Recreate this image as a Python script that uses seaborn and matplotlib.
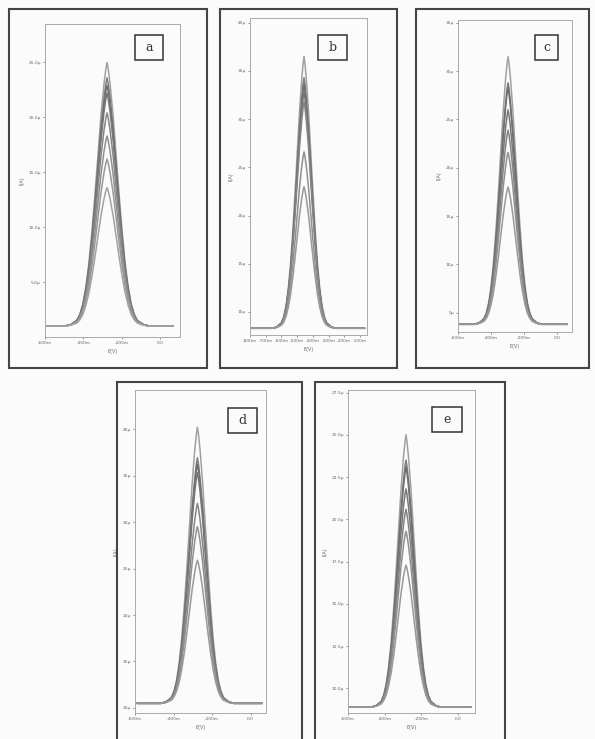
import numpy as np
import pandas as pd
import matplotlib
matplotlib.use("Agg")
import matplotlib.pyplot as plt
import seaborn as sns
from matplotlib.patches import Rectangle

W, H = 595, 739
sns.set_theme(style="white")
plt.rcParams['font.family'] = ['DejaVu Sans']

# Peak profile (offset in half-widths, relative height)
profile_offset = [-3.5, -3.0, -2.5, -2.25, -2.0, -1.75, -1.5, -1.25, -1.0, -0.75, -0.5, -0.25, -0.1, 0.0,
                  0.1, 0.25, 0.5, 0.75, 1.0, 1.25, 1.5, 1.75, 2.0, 2.25, 2.5, 3.0, 3.5]
profile_value = [0.0, 0.006, 0.022, 0.045, 0.085, 0.15, 0.24, 0.36, 0.5, 0.65, 0.8, 0.92, 0.975, 1.0,
                 0.975, 0.92, 0.8, 0.65, 0.5, 0.36, 0.24, 0.15, 0.085, 0.045, 0.022, 0.006, 0.0]

panel_names = ["a", "b", "c", "d", "e"]

# Panel a
a_peaks = [25.0, 23.6, 22.9, 22.2, 20.4, 18.3, 16.2, 13.6]
a_base, a_center, a_hw = 1.0, -0.276, 0.063
a_span = (-0.59, 0.07)
a_xticks = [-0.6, -0.4, -0.2, 0.0]
a_xlabels = ["-600m", "-400m", "-200m", "0.0"]
a_yticks = [5, 10, 15, 20, 25]
a_ylabels = ["5.0µ", "10.0µ", "15.0µ", "20.0µ", "25.0µ"]

# Panel b
b_peaks = [36.5, 34.3, 33.6, 32.8, 31.8, 26.6, 23.0]
b_base, b_center, b_hw = 8.3, -0.456, 0.057
b_span = (-0.79, -0.07)
b_xticks = [-0.8, -0.7, -0.6, -0.5, -0.4, -0.3, -0.2, -0.1]
b_xlabels = ["-800m", "-700m", "-600m", "-500m", "-400m", "-300m", "-200m", "-100m"]
b_yticks = [10, 15, 20, 25, 30, 35, 40]
b_ylabels = ["10µ", "15µ", "20µ", "25µ", "30µ", "35µ", "40µ"]

# Panel c
c_peaks = [31.5, 28.8, 28.3, 26.0, 23.9, 21.6, 18.0]
c_base, c_center, c_hw = 3.8, -0.297, 0.058
c_span = (-0.59, 0.06)
c_xticks = [-0.6, -0.4, -0.2, 0.0]
c_xlabels = ["-600m", "-400m", "-200m", "0.0"]
c_yticks = [5, 10, 15, 20, 25, 30, 35]
c_ylabels = ["5µ", "10µ", "15µ", "20µ", "25µ", "30µ", "35µ"]

# Panel d
d_peaks = [40.2, 36.9, 36.2, 35.3, 32.0, 29.5, 25.9]
d_base, d_center, d_hw = 10.5, -0.276, 0.054
d_span = (-0.59, 0.06)
d_xticks = [-0.6, -0.4, -0.2, 0.0]
d_xlabels = ["-600m", "-400m", "-200m", "0.0"]
d_yticks = [10, 15, 20, 25, 30, 35, 40]
d_ylabels = ["10µ", "15µ", "20µ", "25µ", "30µ", "35µ", "40µ"]

# Panel e
e_peaks = [25.0, 23.5, 23.1, 21.8, 20.6, 19.3, 17.3]
e_base, e_center, e_hw = 8.9, -0.284, 0.054
e_span = (-0.59, 0.07)
e_xticks = [-0.6, -0.4, -0.2, 0.0]
e_xlabels = ["-600m", "-400m", "-200m", "0.0"]
e_yticks = [10, 12.5, 15, 17.5, 20, 22.5, 25, 27.5]
e_ylabels = ["10.0µ", "12.5µ", "15.0µ", "17.5µ", "20.0µ", "22.5µ", "25.0µ", "27.5µ"]

panels = {
    "a": (a_peaks, a_base, a_center, a_hw, a_span, a_xticks, a_xlabels, a_yticks, a_ylabels),
    "b": (b_peaks, b_base, b_center, b_hw, b_span, b_xticks, b_xlabels, b_yticks, b_ylabels),
    "c": (c_peaks, c_base, c_center, c_hw, c_span, c_xticks, c_xlabels, c_yticks, c_ylabels),
    "d": (d_peaks, d_base, d_center, d_hw, d_span, d_xticks, d_xlabels, d_yticks, d_ylabels),
    "e": (e_peaks, e_base, e_center, e_hw, e_span, e_xticks, e_xlabels, e_yticks, e_ylabels),
}

# layout in pixels: frame (l, t, r, b), axes (l, t, r, b), label box (l, t, r, b)
layout = {
    "a": dict(frame=(9, 9, 207, 368), ax=(45, 24, 180, 337), box=(135, 35, 163, 60),
              xlim=(-0.6, 0.105), ylim=(0, 28.5)),
    "b": dict(frame=(220, 9, 397, 368), ax=(250, 18, 367, 335), box=(318, 35, 347, 60),
              xlim=(-0.8, -0.055), ylim=(7.6, 40.5)),
    "c": dict(frame=(416, 9, 589, 368), ax=(458, 20, 572, 332), box=(535, 35, 558, 60),
              xlim=(-0.6, 0.09), ylim=(3.0, 35.3)),
    "d": dict(frame=(117, 382, 302, 760), ax=(135, 390, 266, 713), box=(228, 408, 257, 433),
              xlim=(-0.6, 0.08), ylim=(9.46, 44.2)),
    "e": dict(frame=(315, 382, 505, 760), ax=(348, 390, 475, 713), box=(432, 407, 462, 432),
              xlim=(-0.6, 0.092), ylim=(8.55, 27.65)),
}

fig = plt.figure(figsize=(W / 100, H / 100), dpi=100)
fig.patch.set_facecolor("#fbfbfb")

grays = ["#a0a0a0", "#7c7c7c", "#6e6e6e", "#777777", "#858585", "#909090", "#999999", "#a2a2a2"]

for name in panel_names:
    peaks, base, center, hw, span, xt, xl, yt, yl = panels[name]
    lay = layout[name]
    fl, ft, fr, fb = lay["frame"]
    fig.patches.append(Rectangle((fl / W, 1 - fb / H), (fr - fl) / W, (fb - ft) / H,
                                 transform=fig.transFigure, fill=False,
                                 edgecolor="#454545", lw=1.5))
    l, t, r, b = lay["ax"]
    ax = fig.add_axes([l / W, 1 - b / H, (r - l) / W, (b - t) / H])
    ax.set_facecolor("#fbfbfb")
    rows = []
    for i, pk in enumerate(peaks):
        xs = [span[0]] + [center + o * hw for o in profile_offset] + [span[1]]
        ys = [base] + [base + (pk - base) * v for v in profile_value] + [base]
        for k, (xv, yv) in enumerate(zip(xs, ys)):
            rows.append(dict(x=xv, y=yv, curve=i, order=k))
    df = pd.DataFrame(rows)
    sns.lineplot(data=df, x="x", y="y", hue="curve", units="curve", estimator=None,
                 sort=False, palette=grays[:len(peaks)], legend=False, lw=1.1, ax=ax)
    ax.set_xlim(*lay["xlim"])
    ax.set_ylim(*lay["ylim"])
    ax.set_xticks(xt)
    ax.set_xticklabels(xl)
    ax.set_yticks(yt)
    ax.set_yticklabels(yl)
    ax.tick_params(labelsize=3.2, length=1.5, width=0.5, pad=1.5, colors="#666666",
                   bottom=True, left=True)
    for s in ax.spines.values():
        s.set_color("#aaaaaa")
        s.set_linewidth(0.7)
    ax.set_xlabel("E(V)", fontsize=3.5, color="#666666", labelpad=3)
    ax.set_ylabel("I(A)", fontsize=3.5, color="#666666", labelpad=3)
    bl, bt, br, bb = lay["box"]
    fig.patches.append(Rectangle((bl / W, 1 - bb / H), (br - bl) / W, (bb - bt) / H,
                                 transform=fig.transFigure, fill=True, facecolor="#fbfbfb",
                                 edgecolor="#333333", lw=1.1, zorder=5))
    fig.text((bl + br) / 2 / W, 1 - (bt + bb) / 2 / H, name, ha="center", va="center",
             fontsize=9, family="DejaVu Serif", color="#333333", zorder=6)

fig.savefig("out.png", dpi=100, facecolor=fig.get_facecolor())
